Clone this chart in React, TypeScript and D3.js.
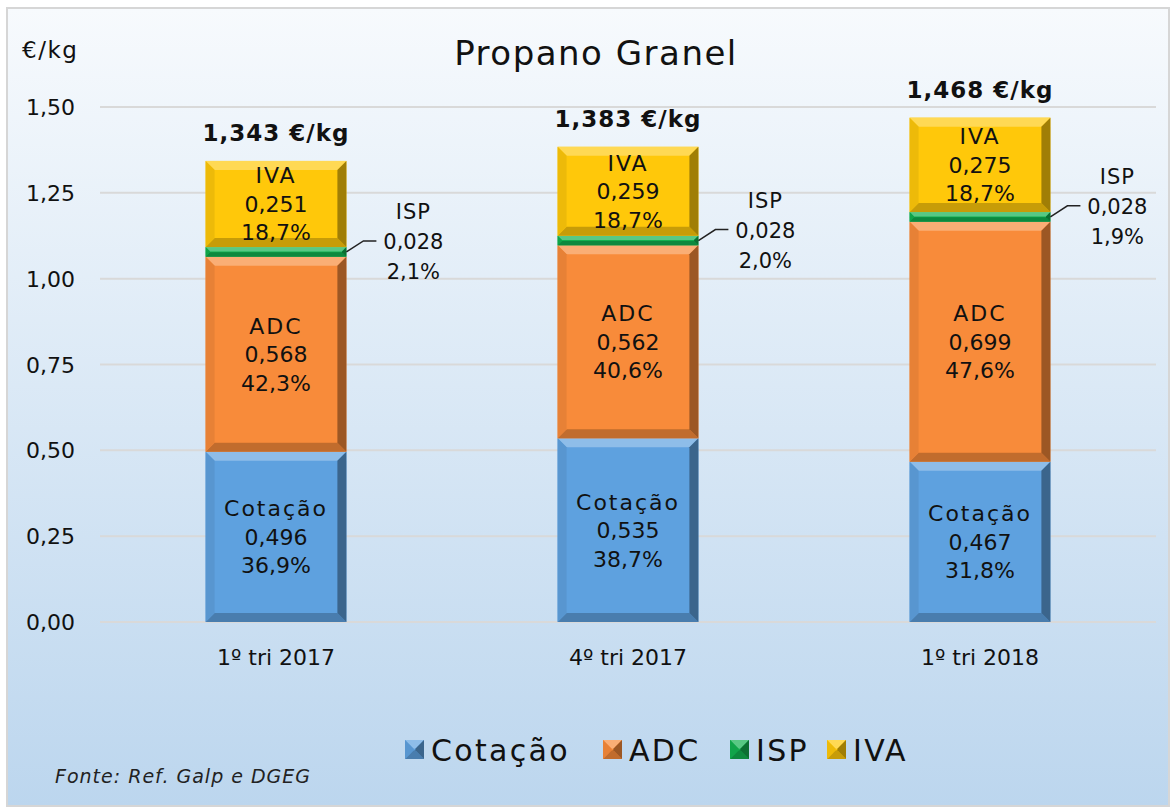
import React from "react";
import * as d3 from "d3";

const categories = ["1º tri 2017", "4º tri 2017", "1º tri 2018"];
const seriesNames = ["Cotação", "ADC", "ISP", "IVA"];
const cotacao = [0.496, 0.535, 0.467];
const adc = [0.568, 0.562, 0.699];
const isp = [0.028, 0.028, 0.028];
const iva = [0.251, 0.259, 0.275];
const percCotacao = ["36,9%", "38,7%", "31,8%"];
const percAdc = ["42,3%", "40,6%", "47,6%"];
const percIsp = ["2,1%", "2,0%", "1,9%"];
const percIva = ["18,7%", "18,7%", "18,7%"];
const totals = ["1,343 €/kg", "1,383 €/kg", "1,468 €/kg"];
const yTicks = [0, 0.25, 0.5, 0.75, 1.0, 1.25, 1.5];
const colors = ["#5ea1df", "#f88b3a", "#11b04f", "#ffc80a"];

const W = 1172;
const H = 809;
const FONT = "'Century Gothic', 'DejaVu Sans', sans-serif";
const fmt = (v: number, d: number) => v.toFixed(d).replace(".", ",");

function Bevel({ x, y, w, h, color }: { x: number; y: number; w: number; h: number; color: string }) {
  const b = Math.min(9, h / 2.2);
  const c = d3.color(color)!;
  const light = d3.interpolateRgb(color, "#ffffff")(0.3);
  const darkR = c.darker(1.3).formatHex();
  const darkB = c.darker(0.7).formatHex();
  const leftC = c.darker(0.2).formatHex();
  return (
    <g>
      <rect x={x} y={y} width={w} height={h} fill={color} />
      <polygon points={`${x},${y} ${x + w},${y} ${x + w - b},${y + b} ${x + b},${y + b}`} fill={light} />
      <polygon points={`${x},${y + h} ${x + w},${y + h} ${x + w - b},${y + h - b} ${x + b},${y + h - b}`} fill={darkB} />
      <polygon points={`${x},${y} ${x + b},${y + b} ${x + b},${y + h - b} ${x},${y + h}`} fill={leftC} />
      <polygon points={`${x + w},${y} ${x + w - b},${y + b} ${x + w - b},${y + h - b} ${x + w},${y + h}`} fill={darkR} />
    </g>
  );
}

export default function App() {
  const x = d3.scaleBand().domain(categories).range([100, 1156]).paddingInner(0.6).paddingOuter(0.3);
  const y = d3.scaleLinear().domain([0, 1.5]).range([622, 107]);
  const bw = x.bandwidth();
  const series = [cotacao, adc, isp, iva];
  const percs = [percCotacao, percAdc, percIsp, percIva];

  return (
    <svg width={W} height={H} style={{ position: "absolute", left: 0, top: 0 }} fontFamily={FONT}>
      <defs>
        <linearGradient id="bg" x1="0" y1="0" x2="0" y2="1">
          <stop offset="0" stopColor="#f7fafd" />
          <stop offset="1" stopColor="#bcd6ee" />
        </linearGradient>
      </defs>
      <rect x={7} y={8} width={1162} height={798} fill="url(#bg)" stroke="#d6d6d6" strokeWidth={2} />
      <text x={596} y={65} fontSize={34} letterSpacing={1.5} textAnchor="middle" fill="#111">Propano Granel</text>
      <text x={22} y={58} fontSize={23} letterSpacing={1.5} fill="#111">€/kg</text>
      {yTicks.map((t) => (
        <g key={t}>
          <line x1={100} x2={1156} y1={y(t)} y2={y(t)} stroke="#d9d9d9" strokeWidth={2} />
          <text x={75} y={y(t) + 8} fontSize={22} textAnchor="end" fill="#111">{fmt(t, 2)}</text>
        </g>
      ))}
      {categories.map((c, i) => {
        const x0 = x(c)!;
        const cx = x0 + bw / 2;
        let acc = 0;
        const segs = series.map((s, k) => {
          const y0 = acc;
          acc += s[i];
          return { k, y0, y1: acc };
        });
        const total = acc;
        const ispSeg = segs[2];
        const ispMid = (y(ispSeg.y0) + y(ispSeg.y1)) / 2;
        const lx = x0 + bw;
        const ly = ispMid - 11;
        return (
          <g key={c}>
            {segs.map((s) => (
              <Bevel key={s.k} x={x0} y={y(s.y1)} w={bw} h={y(s.y0) - y(s.y1)} color={colors[s.k]} />
            ))}
            {segs.filter((s) => s.k !== 2).map((s) => {
              const my = (y(s.y0) + y(s.y1)) / 2;
              return (
                <g key={"l" + s.k} fontSize={22} textAnchor="middle" fill="#111">
                  <text x={cx} y={my - 28.5 + 8} letterSpacing={2}>{seriesNames[s.k]}</text>
                  <text x={cx} y={my + 8}>{fmt(series[s.k][i], 3)}</text>
                  <text x={cx} y={my + 28.5 + 8}>{percs[s.k][i]}</text>
                </g>
              );
            })}
            <polyline points={`${lx},${ispMid} ${lx + 17},${ly} ${lx + 30},${ly}`} fill="none" stroke="#222" strokeWidth={1.5} />
            <g fontSize={21} textAnchor="middle" fill="#111">
              <text x={lx + 67} y={ly - 30 + 8} letterSpacing={1}>ISP</text>
              <text x={lx + 67} y={ly + 8}>{fmt(isp[i], 3)}</text>
              <text x={lx + 67} y={ly + 30 + 8}>{percIsp[i]}</text>
            </g>
            <text x={cx} y={y(total) - 20} fontSize={23} letterSpacing={1} fontWeight="bold" textAnchor="middle" fill="#111">{totals[i]}</text>
            <text x={cx} y={665} fontSize={22} textAnchor="middle" fill="#111">{c}</text>
          </g>
        );
      })}
      {seriesNames.map((n, k) => {
        const lxs = [405, 603, 730, 827];
        const lx = lxs[k];
        return (
          <g key={n}>
            <Bevel x={lx} y={740} w={19} h={19} color={colors[k]} />
            <text x={lx + 26} y={761} fontSize={30} letterSpacing={2.3} fill="#111">{n}</text>
          </g>
        );
      })}
      <text x={55} y={783} fontSize={19} letterSpacing={1} fontStyle="italic" fill="#222">Fonte: Ref. Galp e DGEG</text>
    </svg>
  );
}
